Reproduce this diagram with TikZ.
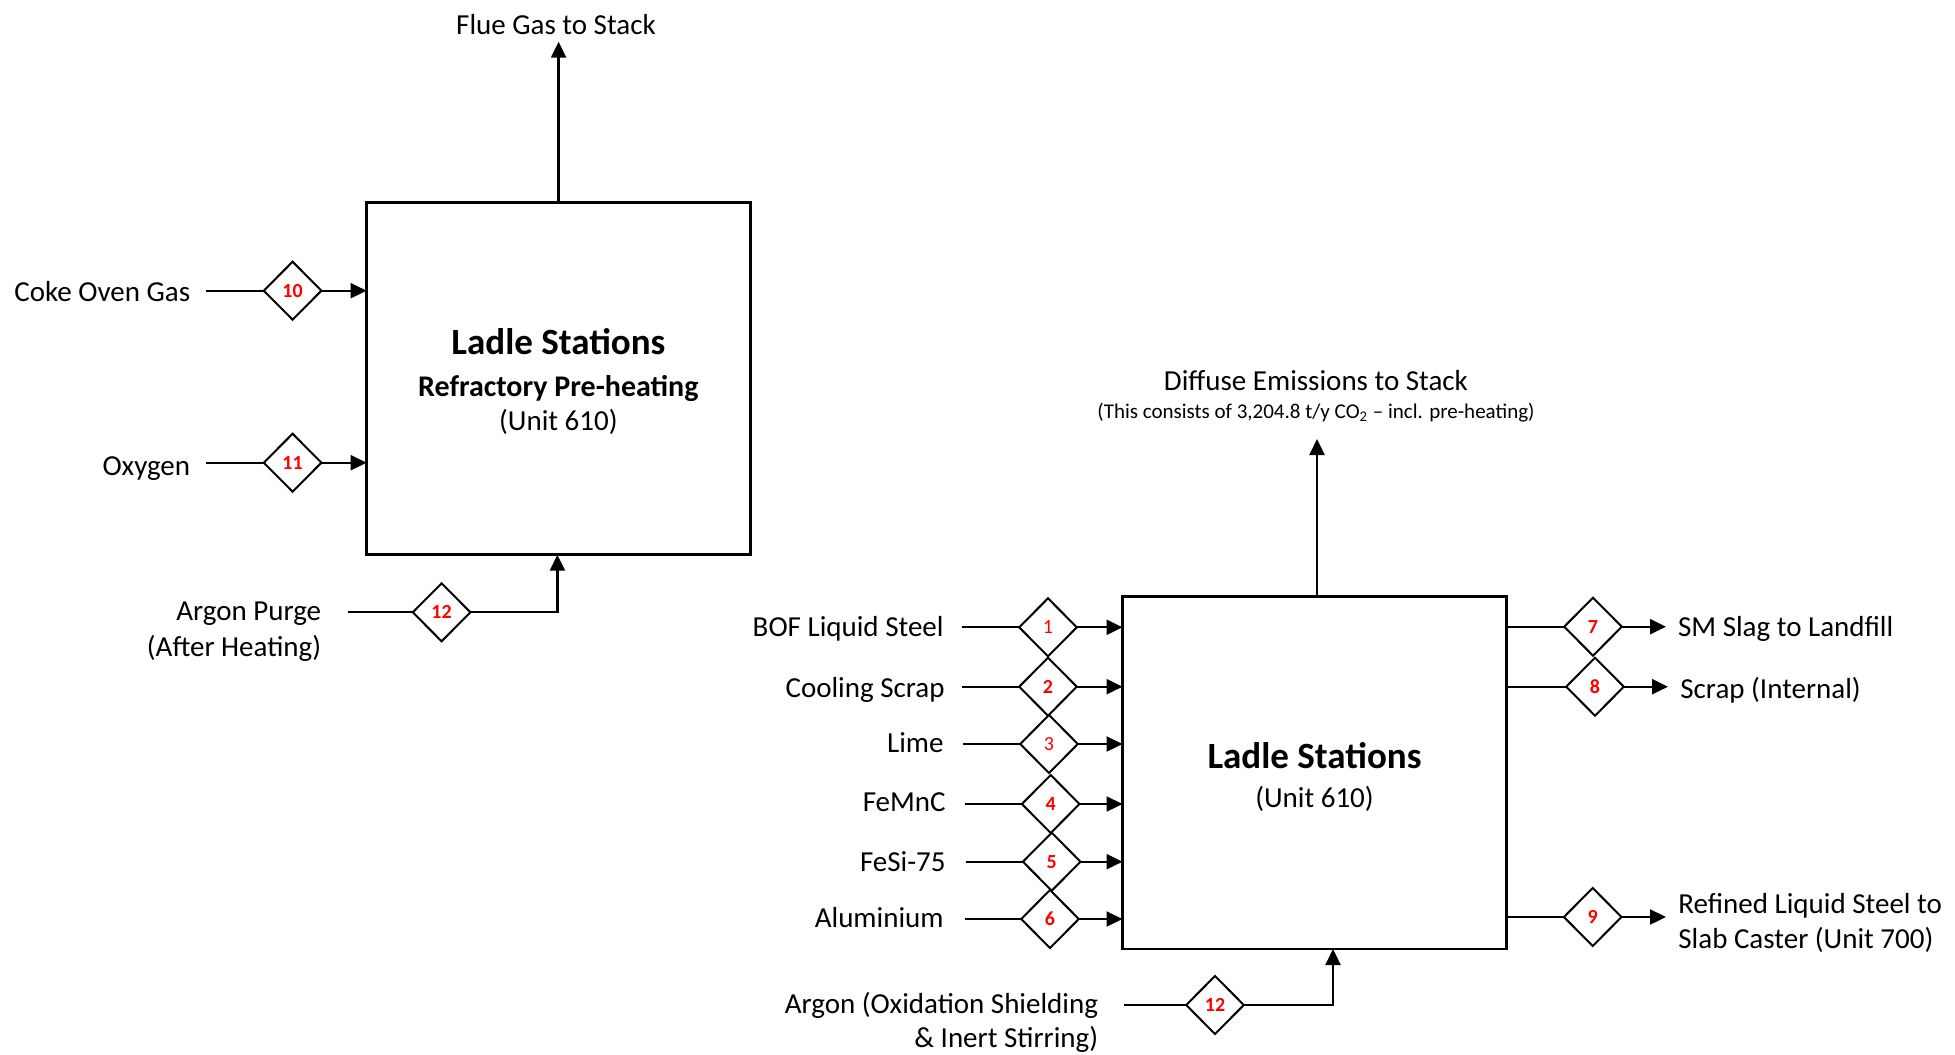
\documentclass[tikz,border=0pt]{standalone}
\usepackage{fontspec}
\setmainfont{Carlito}
\usetikzlibrary{arrows.meta,shapes.geometric}
\begin{document}
\begin{tikzpicture}[x=0.5pt,y=-0.5pt,
  lbl/.style={font=\fontsize{14.5}{17}\selectfont, inner sep=0pt},
  ttl/.style={font=\fontsize{18.5}{22}\selectfont\bfseries, inner sep=0pt},
  sttl/.style={font=\fontsize{15}{18}\selectfont\bfseries, inner sep=0pt},
  small/.style={font=\fontsize{10.5}{12}\selectfont, inner sep=0pt},
  unitbox/.style={draw, line width=1.4pt, outer sep=0pt, minimum width=192pt, minimum height=176.2pt, inner sep=0pt},
  strm/.style={draw, diamond, line width=1pt, fill=white, minimum width=28.8pt, minimum height=29pt, inner sep=0pt, outer sep=0pt, text=red, font=\fontsize{10}{12}\selectfont\bfseries},
  strmn/.style={strm, font=\fontsize{10}{12}\selectfont},
  ln/.style={line width=1.15pt},
  arr/.style={line width=1.15pt, -{Triangle[length=8pt,width=7.5pt]}}
]
\useasboundingbox (0,0) rectangle (1955,1055);

% ---------- Box 1 ----------
\node[unitbox] (box1) at (558.6,378.5) {};
\node[ttl, anchor=base] (t1a) at (558.4,354) {Ladle Stations};
\node[sttl, anchor=base] (t1b) at (558.4,396) {Refractory Pre-heating};
\node[lbl, anchor=base] (t1c) at (558.4,430.7) {(Unit 610)};

\node[lbl, anchor=base] (flue) at (556,34.3) {Flue Gas to Stack};
\coordinate (fluetip) at (558.6,41.7);
\draw[arr] (box1.north) -- (fluetip);

\node[lbl, anchor=base east] (cog) at (190.5,301.7) {Coke Oven Gas};
\coordinate (s10) at (206,290.7);
\node[strm] (d10) at (292.6,290.7) {10};
\draw[ln] (s10) -- (d10.west);
\draw[arr] (d10.east) -- (d10.east -| box1.west);

\node[lbl, anchor=base east] (oxy) at (190.5,475) {Oxygen};
\coordinate (s11) at (206,462.7);
\node[strm] (d11) at (292.6,462.7) {11};
\draw[ln] (s11) -- (d11.west);
\draw[arr] (d11.east) -- (d11.east -| box1.west);

\node[lbl, anchor=base east] (arp1) at (321.5,620.7) {Argon Purge};
\node[lbl, anchor=base east] (arp2) at (321.5,656) {(After Heating)};
\coordinate (s12a) at (348,612.3);
\node[strm] (d12a) at (441.6,612.3) {12};
\coordinate (c12a) at (557.4,612.3);
\draw[ln] (s12a) -- (d12a.west);
\draw[arr] (d12a.east) -- (c12a) -- (c12a |- box1.south);

% ---------- Box 2 ----------
\node[unitbox] (box2) at (1314.5,772.8) {};
\node[ttl, anchor=base] (t2a) at (1314.5,768.3) {Ladle Stations};
\node[lbl, anchor=base] (t2b) at (1314.5,807.7) {(Unit 610)};

\node[lbl, anchor=base] (dif1) at (1316,390) {Diffuse Emissions to Stack};
\node[small, anchor=base] (dif2) at (1316,418.3) {(This consists of 3,204.8 t/y CO\textsubscript{2} – incl. pre-heating)};
\coordinate (diftip) at (1317,439);
\draw[arr] (diftip |- box2.north) -- (diftip);

% inputs
\node[lbl, anchor=base east] (in1) at (944,636.7) {BOF Liquid Steel};
\node[lbl, anchor=base east] (in2) at (945,697.3) {Cooling Scrap};
\node[lbl, anchor=base east] (in3) at (944,752.7) {Lime};
\node[lbl, anchor=base east] (in4) at (946,811) {FeMnC};
\node[lbl, anchor=base east] (in5) at (946,871.7) {FeSi-75};
\node[lbl, anchor=base east] (in6) at (944,927.7) {Aluminium};

\coordinate (s1) at (962,627.3);
\coordinate (s2) at (962,686.7);
\coordinate (s3) at (963,744);
\coordinate (s4) at (964.5,804);
\coordinate (s5) at (965.5,861.7);
\coordinate (s6) at (964.5,919);

\node[strmn] (d1) at (1048,627.3) {1};
\node[strm] (d2) at (1048,686.7) {2};
\node[strmn] (d3) at (1049,744) {3};
\node[strm] (d4) at (1050.7,804) {4};
\node[strm] (d5) at (1051.7,861.7) {5};
\node[strm] (d6) at (1050,919) {6};

\foreach \i in {1,...,6}{
  \draw[ln] (s\i) -- (d\i.west);
  \draw[arr] (d\i.east) -- (d\i.east -| box2.west);
}

% argon
\node[lbl, anchor=base east] (ar1) at (1098.5,1013.3) {Argon (Oxidation Shielding};
\node[lbl, anchor=base east] (ar2) at (1098.5,1047.7) {\& Inert Stirring)};
\coordinate (s12b) at (1124,1005);
\node[strm] (d12b) at (1215,1005) {12};
\coordinate (c12b) at (1333,1005);
\draw[ln] (s12b) -- (d12b.west);
\draw[arr] (d12b.east) -- (c12b) -- (c12b |- box2.south);

% outputs
\node[strm] (d7) at (1593,626.7) {7};
\node[strm] (d8) at (1595,686.7) {8};
\node[strm] (d9) at (1592.7,917) {9};
\coordinate (e7) at (1666,626.7);
\coordinate (e8) at (1668,686.7);
\coordinate (e9) at (1666,917);
\draw[ln] (d7.west -| box2.east) -- (d7.west);
\draw[arr] (d7.east) -- (e7);
\draw[ln] (d8.west -| box2.east) -- (d8.west);
\draw[arr] (d8.east) -- (e8);
\draw[ln] (d9.west -| box2.east) -- (d9.west);
\draw[arr] (d9.east) -- (e9);

\node[lbl, anchor=base west] (o7) at (1677.7,636.7) {SM Slag to Landfill};
\node[lbl, anchor=base west] (o8) at (1680,698.3) {Scrap (Internal)};
\node[lbl, anchor=base west] (o9a) at (1678,913.3) {Refined Liquid Steel to};
\node[lbl, anchor=base west] (o9b) at (1678,948.3) {Slab Caster (Unit 700)};
\end{tikzpicture}
\end{document}
